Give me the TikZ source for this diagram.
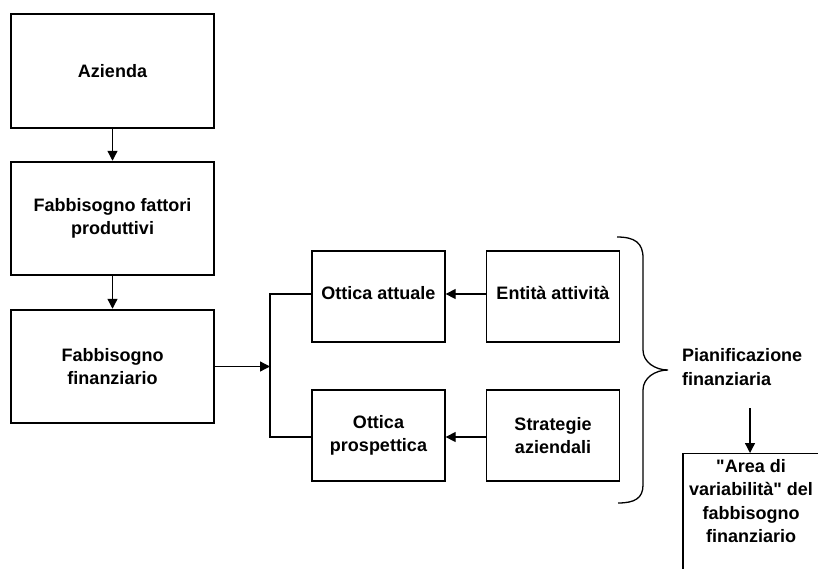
\documentclass[tikz,border=0pt]{standalone}
\usepackage{fontspec}
\setmainfont{Liberation Sans}
\usetikzlibrary{arrows.meta}
\begin{document}
\begin{tikzpicture}[x=1pt,y=-1pt,
  every node/.style={font=\bfseries\fontsize{18}{23.5}\selectfont, align=center, inner sep=0pt},
  thickbox/.style={draw, line width=2.5pt, minimum width=203pt, minimum height=113pt},
  thinbox/.style={draw, line width=1.3pt, minimum width=133pt, minimum height=91pt},
  conn/.style={line width=1.3pt},
  arr/.style={conn, -{Triangle[length=10pt,width=10pt]}}]
\clip (0,0) rectangle (818,568);
% left column
\node[thickbox, minimum height=114pt] (az) at (112.5,71) {Azienda};
\node[thickbox] (ff) at (112.5,218.5) {Fabbisogno fattori\\produttivi};
\node[thickbox] (fn) at (112.5,366.5) {Fabbisogno\\finanziario};
\draw[arr] (az) -- (ff);
\draw[arr] (ff) -- (fn);
% middle boxes
\node[thinbox, text depth=8pt] (oa) at (378.5,296.5) {Ottica attuale};
\node[thinbox, text depth=8pt] (ea) at (553,296.5) {Entità attività};
\node[thinbox] (op) at (378.5,435.5) {Ottica\\prospettica};
\node[thinbox] (sa) at (553,435.5) {Strategie\\aziendali};
% fork
\coordinate (jt) at (270,294);
\coordinate (jb) at (270,437);
\coordinate (jm) at (270,366.5);
\draw[conn] (oa.west |- jt) -- (jt) -- (jb) -- (op.west |- jb);
\draw[arr] (fn.east) -- (jm);
\draw[arr] (ea.west |- jt) -- (oa.east |- jt);
\draw[arr] (sa.west |- jb) -- (op.east |- jb);
% brace
\draw[conn] (617,237) .. controls (635,237) and (643,243) .. (643,258) -- (643,350)
  .. controls (643,362) and (655,370) .. (668,370)
  .. controls (655,370) and (643,378) .. (643,390) -- (643,485)
  .. controls (643,498) and (635,503) .. (618,503);
\node[anchor=west, align=left] (pf) at (682,367) {Pianificazione\\finanziaria};
% result box
\coordinate (as) at (750,408);
\node[draw, line width=1.3pt, minimum width=136pt, minimum height=125pt, anchor=north] (av) at (751,453) {};
\node[anchor=north] (avt) at (751,459) {\textquotedbl Area di\\variabilità\textquotedbl{} del\\fabbisogno\\finanziario};
\draw[arr] (as) -- (as |- av.north);
\end{tikzpicture}
\end{document}
